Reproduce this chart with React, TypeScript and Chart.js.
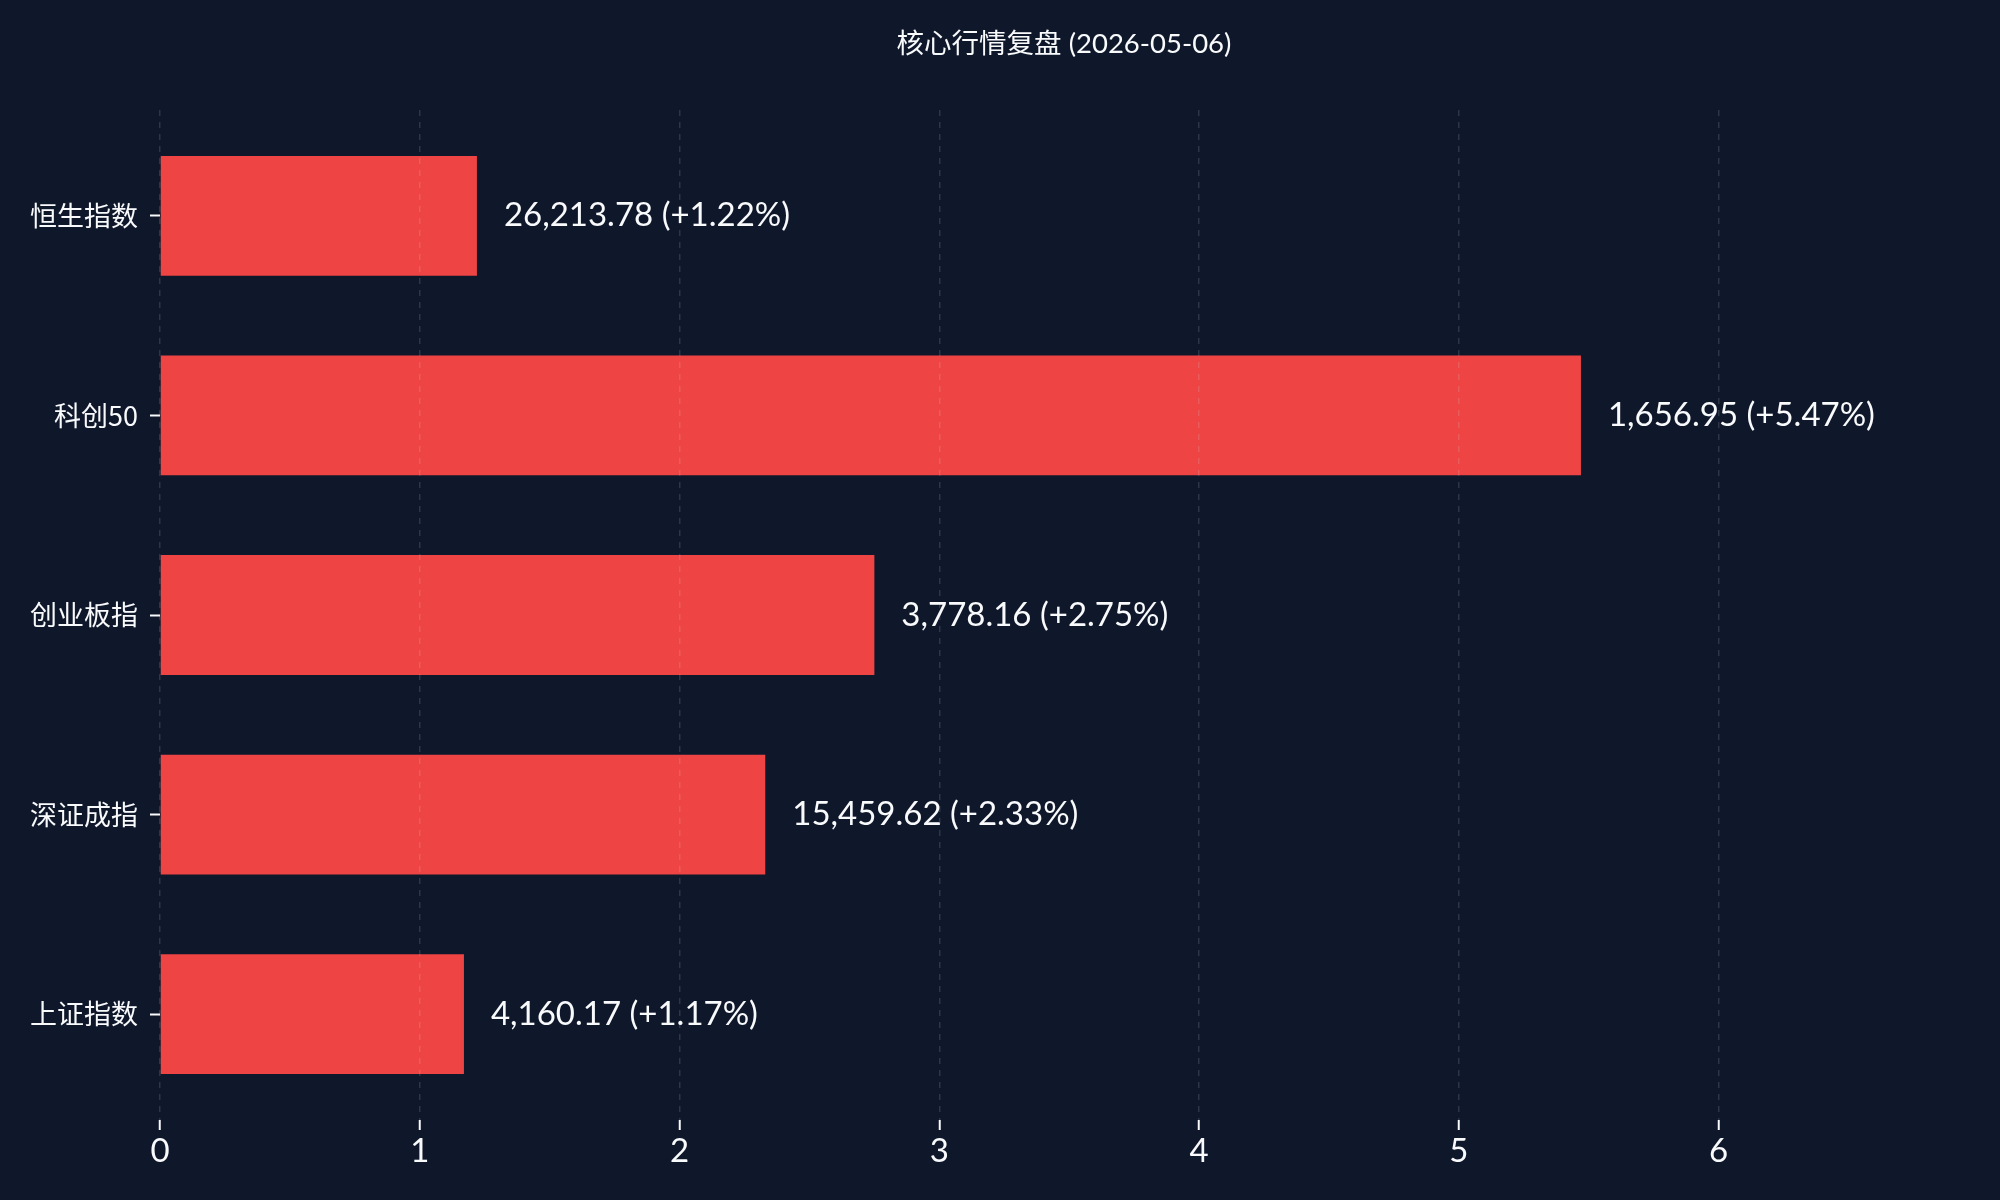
import React, { useEffect, useRef } from "react";
import { Chart, registerables } from "chart.js";

Chart.register(...registerables);

const TITLE = "核心行情复盘 (2026-05-06)";
const categories = ["上证指数", "深证成指", "创业板指", "科创50", "恒生指数"];
const changes = [1.17, 2.33, 2.75, 5.47, 1.22];
const prices = ["4,160.17", "15,459.62", "3,778.16", "1,656.95", "26,213.78"];
const xTicks = [0, 1, 2, 3, 4, 5, 6];

const BG = "#0f172a";
const BAR = "#ef4444";
const TEXT = "#f8fafc";
const LATIN = 'Lato, "Noto Sans CJK SC", sans-serif';
const CJK = '"Noto Sans CJK SC", sans-serif';

export default function App() {
  const ref = useRef<HTMLCanvasElement>(null);

  useEffect(() => {
    if (!ref.current) return;
    const plugin = {
      id: "custom",
      beforeDraw(chart: any) {
        const ctx = chart.ctx;
        ctx.save();
        ctx.fillStyle = BG;
        ctx.fillRect(0, 0, chart.width, chart.height);
        ctx.restore();
      },
      afterDraw(chart: any) {
        const ctx = chart.ctx;
        const area = chart.chartArea;
        ctx.save();
        ctx.fillStyle = TEXT;
        ctx.textAlign = "center";
        ctx.textBaseline = "middle";
        ctx.font = `27.5px ${LATIN}`;
        ctx.fillText(TITLE, (area.left + area.right) / 2, 44);
        const meta = chart.getDatasetMeta(0);
        ctx.font = `33px ${LATIN}`;
        ctx.textAlign = "left";
        meta.data.forEach((el: any, i: number) => {
          const txt = `${prices[i]} (+${changes[i].toFixed(2)}%)`;
          ctx.fillText(txt, el.x + 27, el.y);
        });
        ctx.restore();
      },
    };

    const chart = new Chart(ref.current, {
      type: "bar",
      data: {
        datasets: [
          {
            data: changes.map((v, i) => ({ x: v, y: i })),
            backgroundColor: BAR,
            borderWidth: 0,
            barPercentage: 0.6,
            categoryPercentage: 1.0,
          },
        ],
      },
      options: {
        indexAxis: "y",
        responsive: false,
        animation: false,
        layout: { padding: { top: 110, right: 32, left: 0, bottom: 0 } },
        plugins: {
          legend: { display: false },
          tooltip: { enabled: false },
          title: { display: false },
        },
        scales: {
          x: {
            type: "linear",
            min: 0,
            max: 6.96,
            offset: false,
            afterBuildTicks: (axis: any) => {
              axis.ticks = xTicks.map((v) => ({ value: v }));
            },
            afterFit: (axis: any) => {
              axis.height = 80;
            },
            grid: {
              color: "rgba(203,213,225,0.16)",
              lineWidth: 1.5,
              drawOnChartArea: true,
              drawTicks: true,
              tickLength: 10,
              tickColor: TEXT,
              tickWidth: 2,
              offset: false,
              z: 1,
            },
            border: { display: false, dash: [6, 6] },
            ticks: {
              color: TEXT,
              font: { family: LATIN, size: 33 },
              padding: 2,
              callback: (v: any) => String(v),
            },
          },
          y: {
            type: "linear",
            min: -0.53,
            max: 4.53,
            offset: false,
            afterBuildTicks: (axis: any) => {
              axis.ticks = categories.map((_, i) => ({ value: i }));
            },
            afterFit: (axis: any) => {
              axis.width = 160;
            },
            grid: {
              drawOnChartArea: false,
              drawTicks: true,
              tickLength: 10,
              tickColor: TEXT,
              tickWidth: 2,
              offset: false,
            },
            border: { display: false },
            ticks: {
              color: TEXT,
              font: { family: CJK, size: 27 },
              padding: 12,
              callback: (v: any) => categories[v] ?? "",
            },
          },
        },
      },
      plugins: [plugin],
    } as any);

    return () => chart.destroy();
  }, []);

  return (
    <div
      style={{
        position: "fixed",
        left: 0,
        top: 0,
        width: 2000,
        height: 1200,
        background: BG,
      }}
    >
      <canvas ref={ref} width={2000} height={1200} style={{ width: 2000, height: 1200 }} />
    </div>
  );
}
